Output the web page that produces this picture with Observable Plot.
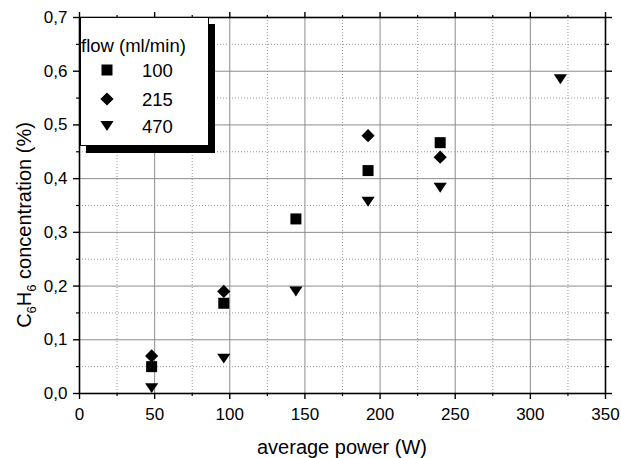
<!DOCTYPE html>
<html>
<head>
<meta charset="utf-8">
<script src="https://cdn.jsdelivr.net/npm/d3@7"></script>
<script src="https://cdn.jsdelivr.net/npm/@observablehq/plot@0.6"></script>
<style>
  html, body { margin: 0; padding: 0; background: white; }
  #wrap { position: relative; width: 621px; height: 458px; font-family: "Liberation Sans", Arial, sans-serif; }
  #legend { position: absolute; left: 80px; top: 17px; width: 129px; height: 129px; background: white;
            border: 1px solid black; box-sizing: border-box; box-shadow: 6px 7px 0 #000; }
</style>
</head>
<body>
<div id="wrap"></div>
<script>
// ---- data ----
const flowLabels = ["100", "215", "470"];
const power100 = [48, 96, 144, 192, 240];
const conc100  = [0.05, 0.168, 0.325, 0.415, 0.467];
const power215 = [48, 96, 192, 240];
const conc215  = [0.07, 0.19, 0.48, 0.44];
const power470 = [48, 96, 144, 192, 240, 320];
const conc470  = [0.01, 0.065, 0.19, 0.357, 0.383, 0.585];
const xTicks = [0, 50, 100, 150, 200, 250, 300, 350];
const xMinor = [25, 75, 125, 175, 225, 275, 325];
const yTicks = [0, 0.1, 0.2, 0.3, 0.4, 0.5, 0.6, 0.7];
const yMinor = [0.05, 0.15, 0.25, 0.35, 0.45, 0.55, 0.65];
const xLabel = "average power (W)";
const legendTitle = "flow (ml/min)";

// ---- symbols ----
const symSquare = { draw(ctx, size) { const s = Math.sqrt(size) / 2; ctx.moveTo(-s, -s); ctx.lineTo(s, -s); ctx.lineTo(s, s); ctx.lineTo(-s, s); ctx.closePath(); } };
const symDiamond = { draw(ctx, size) { const r = Math.sqrt(size) * 0.6; ctx.moveTo(0, -r); ctx.lineTo(r, 0); ctx.lineTo(0, r); ctx.lineTo(-r, 0); ctx.closePath(); } };
const symTriDown = { draw(ctx, size) { const s = Math.sqrt(size); const w = s * 0.6, h = s * 0.45; ctx.moveTo(-w, -h); ctx.lineTo(w, -h); ctx.lineTo(0, h); ctx.closePath(); } };
const symbols = [symSquare, symDiamond, symTriDown];

const rows = (xs, ys) => xs.map((x, i) => ({x, y: ys[i]}));
const series = [rows(power100, conc100), rows(power215, conc215), rows(power470, conc470)];

const fmtY = d => d3.format(".1f")(d).replace(".", ",");
const R = Math.sqrt(121 / Math.PI);

const plot = Plot.plot({
  width: 621, height: 458,
  marginLeft: 79, marginRight: 16, marginTop: 17, marginBottom: 65,
  x: {domain: [0, 350]},
  y: {domain: [0, 0.7]},
  style: {fontFamily: '"Liberation Sans", Arial, sans-serif', fontSize: "17px", color: "black", background: "white", overflow: "visible"},
  marks: [
    Plot.gridX(xMinor, {stroke: "#9a9a9a", strokeOpacity: 1, strokeDasharray: "1,2"}),
    Plot.gridY(yMinor, {stroke: "#9a9a9a", strokeOpacity: 1, strokeDasharray: "1,2"}),
    Plot.gridX(xTicks.slice(1, -1), {stroke: "#8c8c8c", strokeOpacity: 1}),
    Plot.gridY(yTicks.slice(1, -1), {stroke: "#8c8c8c", strokeOpacity: 1}),
    Plot.frame({stroke: "black", strokeWidth: 1.6}),
    Plot.axisX(xTicks, {anchor: "bottom", tickSize: 6, tickPadding: 8, tickFormat: d => String(d), label: null, strokeWidth: 1.4}),
    Plot.axisX(xMinor, {anchor: "bottom", tickSize: 3, tickFormat: () => "", label: null, strokeWidth: 1.2}),
    Plot.axisX(xTicks, {anchor: "top", tickSize: 6, tickFormat: () => "", label: null, strokeWidth: 1.4}),
    Plot.axisX(xMinor, {anchor: "top", tickSize: 3, tickFormat: () => "", label: null, strokeWidth: 1.2}),
    Plot.axisY(yTicks, {anchor: "left", tickSize: 6, tickPadding: 6, tickFormat: fmtY, label: null, strokeWidth: 1.4}),
    Plot.axisY(yMinor, {anchor: "left", tickSize: 3, tickFormat: () => "", label: null, strokeWidth: 1.2}),
    Plot.axisY(yTicks, {anchor: "right", tickSize: 6, tickFormat: () => "", label: null, strokeWidth: 1.4}),
    Plot.axisY(yMinor, {anchor: "right", tickSize: 3, tickFormat: () => "", label: null, strokeWidth: 1.2}),
    ...series.map((data, i) => Plot.dot(data, {x: "x", y: "y", symbol: symbols[i], r: R, fill: "black", stroke: "none"}))
  ]
});

const wrap = document.getElementById("wrap");
wrap.appendChild(plot);

// axis titles (positions derived from the plot's scales)
const xs = plot.scale("x"), ys = plot.scale("y");
const svg = d3.select(plot);
const xMid = (xs.apply(0) + xs.apply(350)) / 2;
svg.append("text")
  .attr("x", xMid).attr("y", ys.apply(0) + 61)
  .attr("text-anchor", "middle")
  .attr("font-size", 20).attr("fill", "black")
  .text(xLabel);

const yMid = 225;
const yl = svg.append("text")
  .attr("transform", `translate(31,${yMid}) rotate(-90)`)
  .attr("text-anchor", "middle")
  .attr("font-size", 20).attr("fill", "black");
yl.append("tspan").text("C");
yl.append("tspan").attr("font-size", 13).attr("dy", 5).text("6");
yl.append("tspan").attr("dy", -5).text("H");
yl.append("tspan").attr("font-size", 13).attr("dy", 5).text("6");
yl.append("tspan").attr("dy", -5).text(" concentration (%)");

// legend
const leg = document.createElement("div");
leg.id = "legend";
wrap.appendChild(leg);
const ls = d3.select(leg).append("svg").attr("width", 127).attr("height", 127)
  .style("position", "absolute").style("left", "0px").style("top", "0px")
  .style("font-family", '"Liberation Sans", Arial, sans-serif');
ls.append("text").attr("x", 0).attr("y", 34).attr("font-size", 18.5).attr("fill", "black").text(legendTitle);
const rowY = [52, 81, 108];
flowLabels.forEach((lab, i) => {
  ls.append("path").attr("transform", `translate(26,${rowY[i]})`)
    .attr("d", d3.symbol(symbols[i], 121)()).attr("fill", "black");
  ls.append("text").attr("x", 61).attr("y", rowY[i]).attr("dy", "0.36em")
    .attr("font-size", 18.5).attr("fill", "black").text(lab);
});
</script>
</body>
</html>
